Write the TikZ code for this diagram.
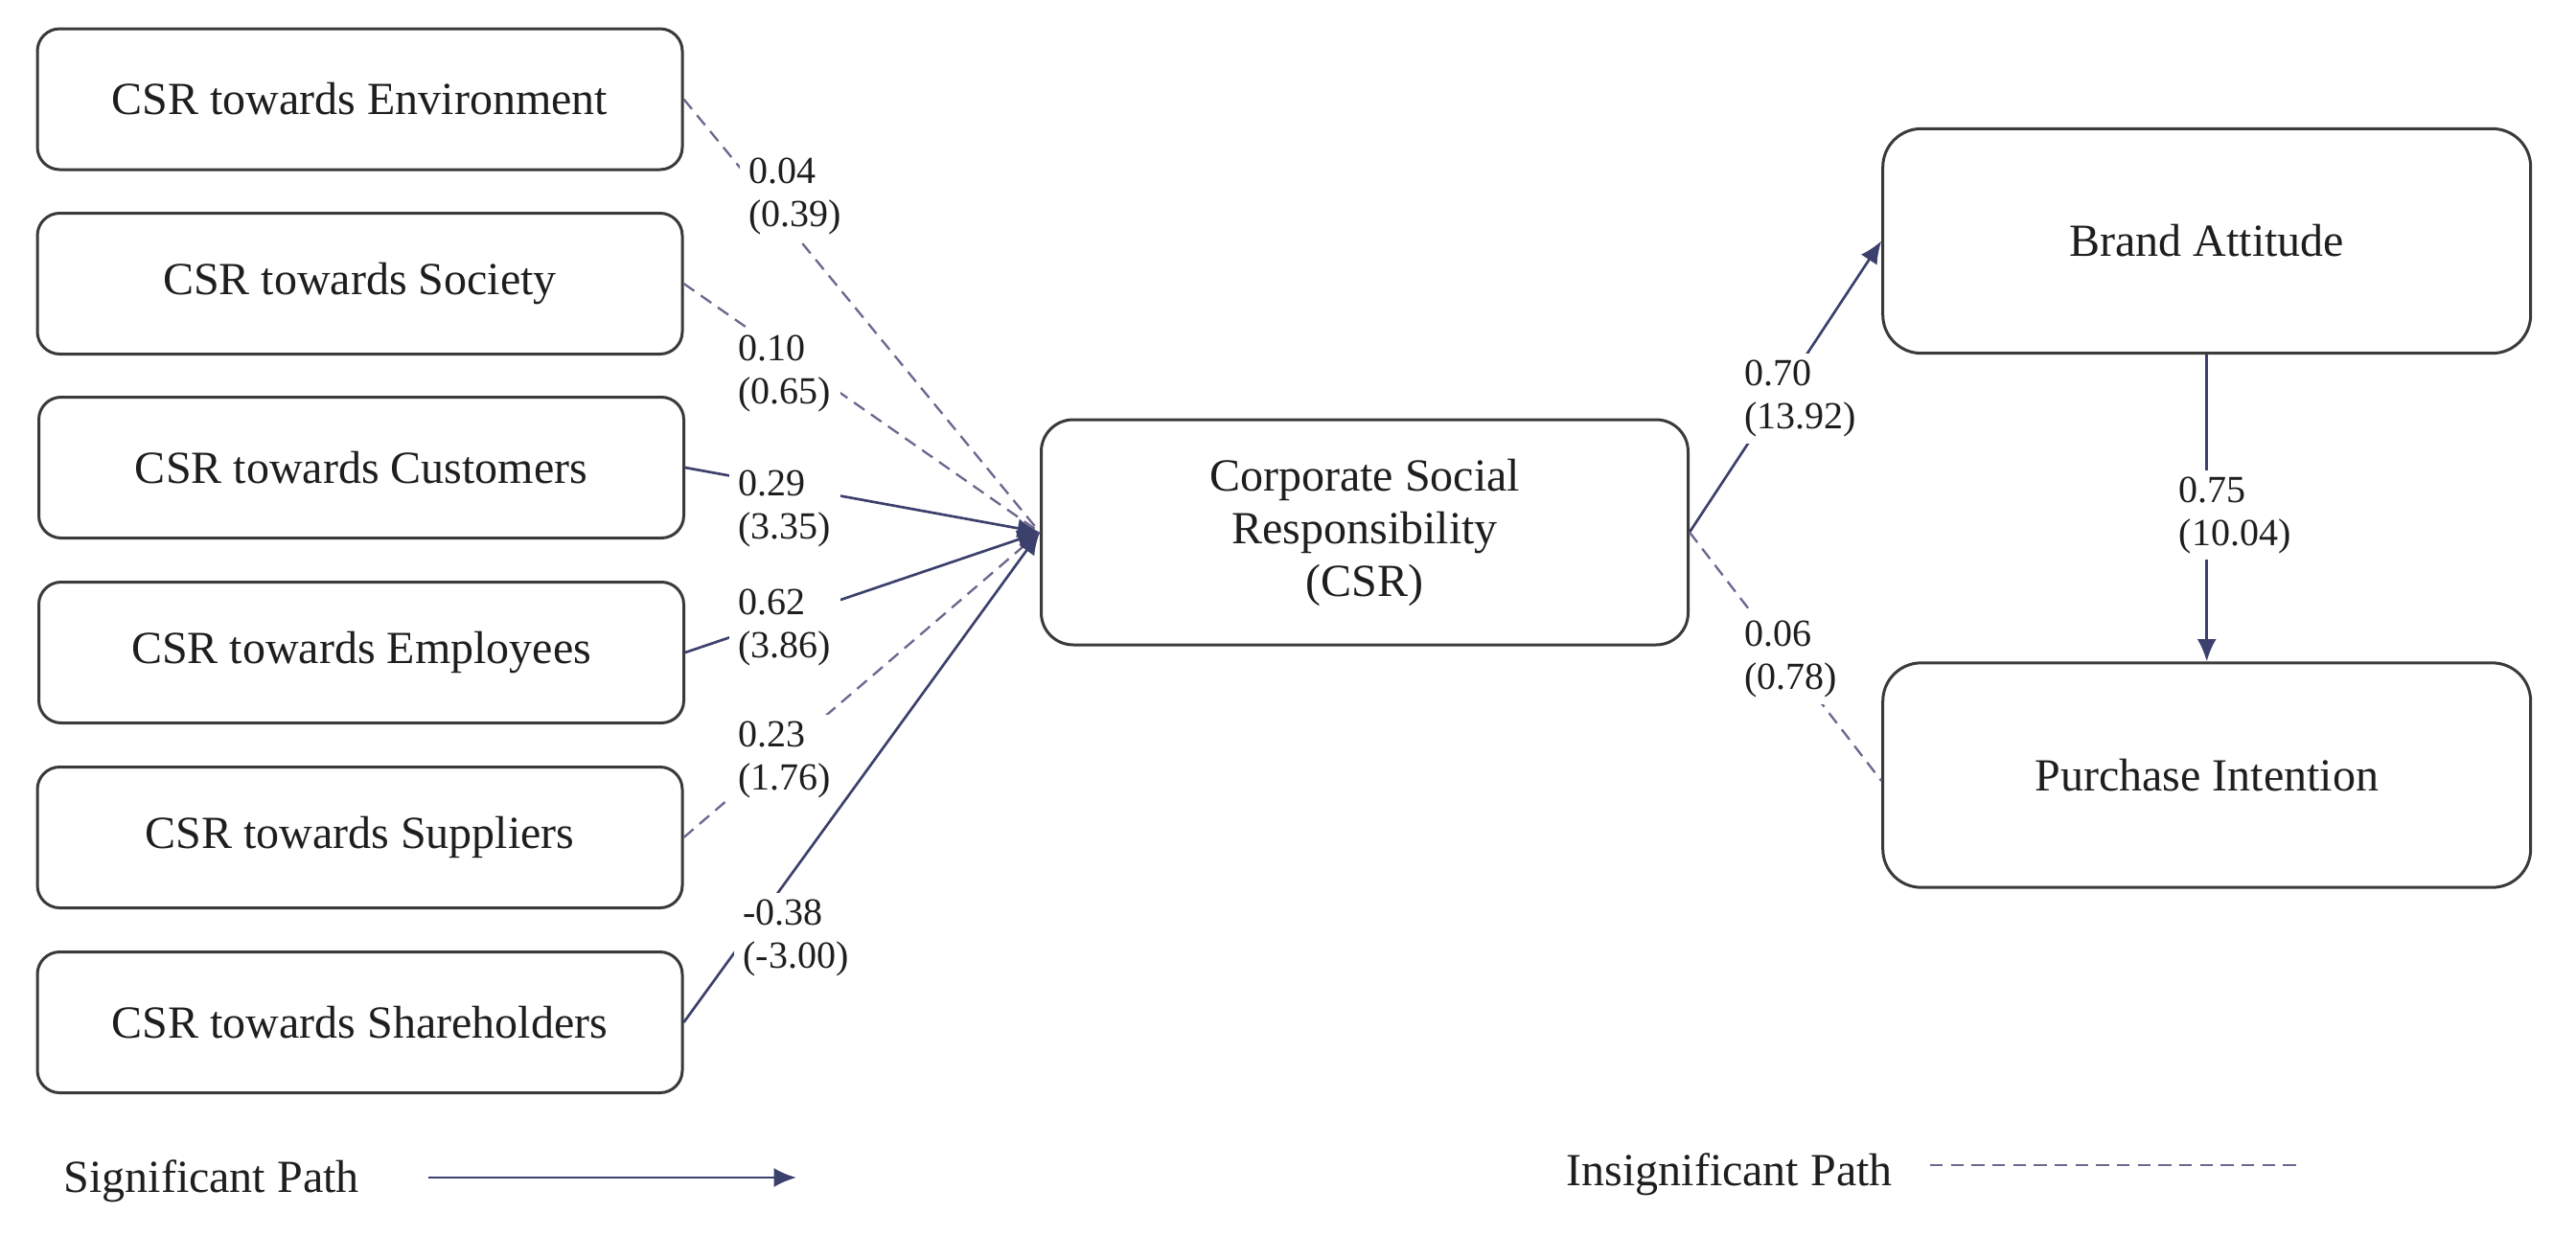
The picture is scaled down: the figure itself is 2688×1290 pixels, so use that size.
\documentclass[tikz,border=0pt]{standalone}
\usepackage{fontspec}
\setmainfont{Liberation Serif}
\usetikzlibrary{arrows.meta}
\definecolor{sigc}{RGB}{60,64,108}
\definecolor{insc}{RGB}{112,102,142}
\definecolor{boxc}{RGB}{58,58,58}
\definecolor{txtc}{RGB}{30,30,30}
\begin{document}
\begin{tikzpicture}[x=0.3pt,y=-0.3pt,
  lbox/.style={draw=boxc,line width=0.9pt,rounded corners=7pt,minimum width=201.9pt,minimum height=44.1pt,inner sep=0pt,text=txtc,font=\fontsize{14.4}{17.3}\selectfont},
  cbox/.style={draw=boxc,line width=0.9pt,rounded corners=10pt,minimum width=202.5pt,minimum height=70.5pt,inner sep=0pt,align=center,text=txtc,font=\fontsize{14.4}{16.5}\selectfont},
  rbox/.style={draw=boxc,line width=0.9pt,rounded corners=12pt,minimum width=202.8pt,minimum height=70.3pt,inner sep=0pt,text=txtc,font=\fontsize{14.4}{17.3}\selectfont},
  lab/.style={fill=white,inner xsep=3pt,inner ysep=2pt,align=left,anchor=west,text=txtc,font=\fontsize{12}{13.5}\selectfont},
  sigpath/.style={draw=sigc,line width=0.8pt,-{Latex[length=7pt,width=6pt]}},
  sigline/.style={draw=sigc,line width=0.8pt},
  inspath/.style={draw=insc,line width=0.7pt,dash pattern=on 4pt off 2.5pt},
  legtext/.style={text=txtc,font=\fontsize{14.4}{17.3}\selectfont,inner sep=0pt,anchor=base west}
]
\useasboundingbox (0,0) rectangle (2688,1290);

% left boxes
\node[lbox] (env) at (375.5,103.5) {CSR towards Environment};
\node[lbox] (soc) at (375.5,296) {CSR towards Society};
\node[lbox] (cus) at (377,488) {CSR towards Customers};
\node[lbox] (emp) at (377,681) {CSR towards Employees};
\node[lbox] (sup) at (375.5,874) {CSR towards Suppliers};
\node[lbox] (sha) at (375.5,1067) {CSR towards Shareholders};

% central and right boxes
\node[cbox] (csr) at (1424,555.5) {Corporate Social\\Responsibility\\(CSR)};
\node[rbox] (ba) at (2302.7,251.5) {Brand Attitude};
\node[rbox] (pi) at (2302.7,809) {Purchase Intention};

% paths into CSR
\draw[inspath] (env.east) -- (csr.west);
\draw[inspath] (soc.east) -- (csr.west);
\draw[inspath] (sup.east) -- (csr.west);
\draw[sigpath] (cus.east) -- (csr.west);
\draw[sigpath] (emp.east) -- (csr.west);
\draw[sigpath] (sha.east) -- (csr.west);

% paths out of CSR
\draw[sigpath] (csr.east) -- (ba.west);
\draw[inspath] (csr.east) -- ([yshift=-1.8pt]pi.west);
\draw[sigpath] (ba.south) -- (pi.north);

% labels
\node[lab] (l1) at (771,205) {0.04\\(0.39)};
\node[lab] (l2) at (760,390) {0.10\\(0.65)};
\node[lab] (l3) at (760,531) {0.29\\(3.35)};
\node[lab] (l4) at (760,655) {0.62\\(3.86)};
\node[lab] (l5) at (760,793) {0.23\\(1.76)};
\node[lab] (l6) at (765,979) {-0.38\\(-3.00)};
\node[lab] (l7) at (1810,416) {0.70\\(13.92)};
\node[lab] (l8) at (1810,688) {0.06\\(0.78)};
\node[lab] (l9) at (2263,537.5) {0.75\\(10.04)};

% legend
\node[legtext] (sigt) at (66,1244) {Significant Path};
\coordinate (sa) at (447,1229);
\coordinate (sb) at (831,1229);
\draw[sigpath] (sa) -- (sb);
\node[legtext] (inst) at (1634,1237) {Insignificant Path};
\coordinate (ia) at (2014,1216);
\coordinate (ib) at (2398,1216);
\draw[inspath] (ia) -- (ib);
\end{tikzpicture}
\end{document}
